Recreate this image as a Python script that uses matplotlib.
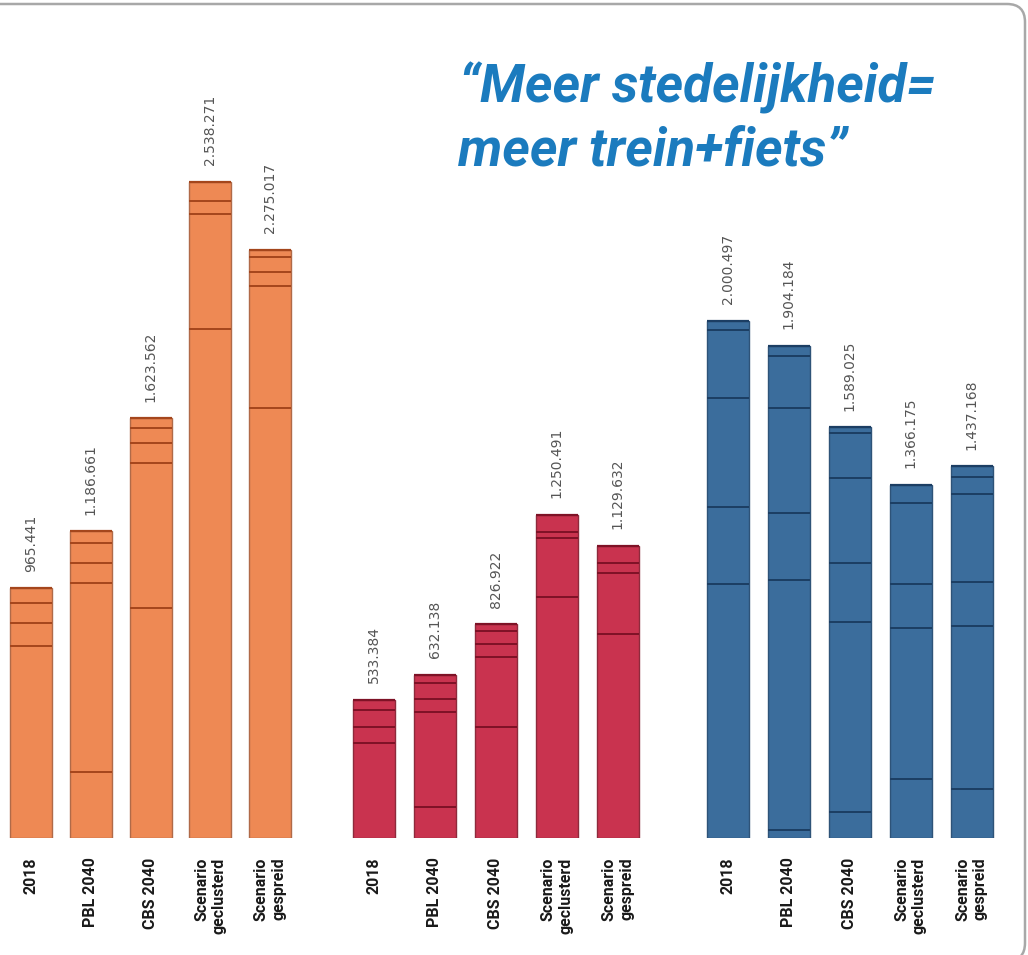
import matplotlib
matplotlib.use("Agg")
import matplotlib.pyplot as plt
from matplotlib.patches import FancyBboxPatch
from matplotlib.transforms import IdentityTransform

# ---- data -------------------------------------------------------------
categories = ["2018", "PBL 2040", "CBS 2040", "Scenario\ngeclusterd", "Scenario\ngespreid"]

totals_orange = [965441, 1186661, 1623562, 2538271, 2275017]
totals_red = [533384, 632138, 826922, 1250491, 1129632]
totals_blue = [2000497, 1904184, 1589025, 1366175, 1437168]

# internal segment boundaries within each bar (cumulative values)
breaks_orange = [
    [743000, 832000, 909000],
    [255000, 986000, 1064000, 1141000],
    [890000, 1451000, 1528000, 1586000],
    [1969000, 2414000, 2464000],
    [1663000, 2135000, 2190000, 2248000],
]
breaks_red = [
    [367000, 429000, 495000],
    [120000, 487000, 538000, 600000],
    [429000, 700000, 750000, 801000],
    [932000, 1160000, 1184000],
    [789000, 1025000, 1064000],
]
breaks_blue = [
    [983000, 1280000, 1702000, 1965000],
    [31000, 998000, 1259000, 1663000, 1865000],
    [101000, 836000, 1064000, 1393000, 1567000],
    [228000, 812000, 983000, 1296000],
    [190000, 820000, 990000, 1331000, 1397000],
]

title_lines = ["\u201cMeer stedelijkheid=", "meer trein+fiets\u201d"]

# ---- styling ------------------------------------------------------------
groups = [
    (totals_orange, breaks_orange, "#EE8954", "#A4461C", "#B06A48"),
    (totals_red, breaks_red, "#C9334F", "#7E1226", "#8E2A3C"),
    (totals_blue, breaks_blue, "#3B6D9C", "#1C3E63", "#2E5378"),
]
group_offsets = [0.0, 5.62, 11.42]   # start of each group, in bar pitches
group_steps = [0.98, 1.0, 1.0]       # spacing between bars within a group

W, H = 1028, 955
BASE_PX = 838            # baseline position (pixels from top)
PX_PER_UNIT = 0.2585e-3  # pixels per unit value
PITCH = 61.0             # bar pitch in pixels
FIRST_X = 31.0           # centre of the first bar in pixels
BAR_W = 0.69

fig = plt.figure(figsize=(W / 100, H / 100), dpi=100)
fig.patch.set_facecolor("white")
ax = fig.add_axes([0, (H - BASE_PX) / H, 1, BASE_PX / H])
ax.set_xlim(-FIRST_X / PITCH, (W - FIRST_X) / PITCH)
ax.set_ylim(0, BASE_PX / PX_PER_UNIT)
ax.axis("off")

value_font = dict(family=["DejaVu Sans"], size=10, color="#555555")
cat_font = ["Liberation Sans Narrow", "Roboto", "DejaVu Sans"]

for g, (totals, breaks, fill, line_c, edge_c) in enumerate(groups):
    xs = [group_offsets[g] + i * group_steps[g] for i in range(len(categories))]
    ax.bar(xs, totals, width=BAR_W, color=fill, edgecolor=edge_c, linewidth=1.0)
    for i, (x, tot, brk) in enumerate(zip(xs, totals, breaks)):
        ax.hlines(brk, x - BAR_W / 2, x + BAR_W / 2, colors=line_c, linewidth=1.4)
        ax.hlines([tot], x - BAR_W / 2, x + BAR_W / 2, colors=line_c, linewidth=1.6)
        ax.annotate(f"{tot:,}".replace(",", "."), (x, tot), xytext=(0, 12),
                    textcoords="offset points", rotation=90, ha="center",
                    va="bottom", **value_font)
        # category label below the bar
        ax.annotate(
            categories[i], (x, 0), xytext=(0, -14),
            textcoords="offset points", rotation=90, ha="center", va="top",
            multialignment="right", family=cat_font, weight="bold",
            size=11.5, color="#1a1a1a", annotation_clip=False,
        )

# title
title_style = dict(family=cat_font, weight="bold", style="italic", size=38,
                   color="#1B7BBE", ha="left", va="baseline")
fig.text(459 / W, 1 - 102 / H, title_lines[0], **title_style)
fig.text(458 / W, 1 - 166 / H, title_lines[1], **title_style)

# rounded frame
frame = FancyBboxPatch((-30, -6), 1055, 957,
                       boxstyle="round,pad=0,rounding_size=18",
                       transform=IdentityTransform(), facecolor="none",
                       edgecolor="#a8a8a8", linewidth=1.8)
fig.patches.append(frame)

fig.savefig("out.png", dpi=100)
